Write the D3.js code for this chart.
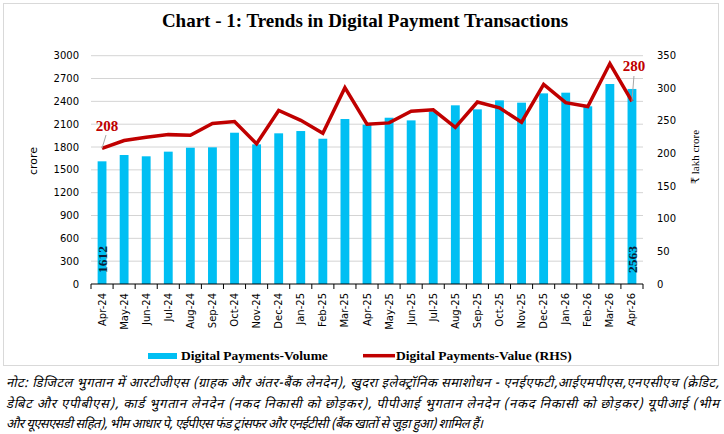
<!DOCTYPE html>
<html>
<head>
<meta charset="utf-8">
<script src="https://d3js.org/d3.v7.min.js"></script>
<style>
  body { margin: 0; background: #fff; }
  svg { display: block; }
</style>
</head>
<body>
<div id="chart"></div>
<script>
/* ============================================================
   DATA
   ============================================================ */

const months = [
  'Apr-24', 'May-24', 'Jun-24', 'Jul-24', 'Aug-24', 'Sep-24', 'Oct-24',
  'Nov-24', 'Dec-24', 'Jan-25', 'Feb-25', 'Mar-25', 'Apr-25', 'May-25',
  'Jun-25', 'Jul-25', 'Aug-25', 'Sep-25', 'Oct-25', 'Nov-25', 'Dec-25',
  'Jan-26', 'Feb-26', 'Mar-26', 'Apr-26'
];

// crore transactions (left axis)
const volume = [
  1612, 1695, 1678, 1739, 1791, 1796, 1988, 1835, 1980, 2010, 1909, 2168,
  2094, 2185, 2150, 2265, 2348, 2295, 2413, 2383, 2505, 2514, 2335, 2628, 2563
];

// ₹ lakh crore (right axis)
const value = [
  208, 220, 225, 229, 228, 246, 249, 215, 266, 251, 231, 301,
  245, 247, 265, 267, 240, 279, 270, 248, 306, 278, 272, 338, 280
];

const leftTicks  = d3.range(0, 3001, 300);
const rightTicks = d3.range(0, 351, 50);

const noteLines = [
  'नोट: डिजिटल भुगतान में आरटीजीएस (ग्राहक और अंतर-बैंक लेनदेन), खुदरा इलेक्ट्रॉनिक समाशोधन - एनईएफटी,आईएमपीएस,एनएसीएच (क्रेडिट,',
  'डेबिट और एपीबीएस), कार्ड भुगतान लेनदेन (नकद निकासी को छोड़कर), पीपीआई भुगतान लेनदेन (नकद निकासी को छोड़कर) यूपीआई (भीम',
  'और यूएसएसडी सहित), भीम आधार पे, एईपीएस फंड ट्रांसफर और एनईटीसी (बैंक खातों से जुड़ा हुआ) शामिल हैं।'
];

/* ============================================================
   LAYOUT / STYLE
   ============================================================ */

const W = 724, H = 434;
const PLOT = { left: 91, right: 643, top: 55.7, bottom: 284 };

const BAR_COLOR  = '#00bff3';
const LINE_COLOR = '#c00000';
const SERIF = '"Liberation Serif", "DejaVu Serif", serif';
const SANS  = '"DejaVu Sans", Verdana, sans-serif';
const DEVA  = '"Noto Sans Devanagari", "Noto Serif Devanagari", "Lohit Devanagari", "Mangal", "Noto Sans", sans-serif';

const svg = d3.select('#chart')
  .append('svg')
  .attr('width', W)
  .attr('height', H);

/* Frame */
svg.append('rect')
  .attr('x', 3.5).attr('y', 3.5)
  .attr('width', 715).attr('height', 362)
  .attr('fill', '#fff')
  .attr('stroke', '#d9d9d9');

/* Title */
svg.append('text')
  .attr('x', 365).attr('y', 27)
  .attr('text-anchor', 'middle')
  .attr('font-family', SERIF)
  .attr('font-weight', 'bold')
  .attr('font-size', 19)
  .attr('fill', '#000')
  .text('Chart - 1: Trends in Digital Payment Transactions');

/* Scales */
const x = d3.scaleBand()
  .domain(months)
  .range([PLOT.left, PLOT.right])
  .paddingInner(0.6)
  .paddingOuter(0.3);

const yL = d3.scaleLinear().domain([0, 3000]).range([PLOT.bottom, PLOT.top]);
const yR = d3.scaleLinear().domain([0, 350]).range([PLOT.bottom, PLOT.top]);

/* Gridlines */
svg.append('g')
  .selectAll('line')
  .data(leftTicks.filter(d => d > 0))
  .join('line')
  .attr('x1', PLOT.left).attr('x2', PLOT.right)
  .attr('y1', d => yL(d)).attr('y2', d => yL(d))
  .attr('stroke', '#d4d4d4')
  .attr('stroke-width', 1);

/* Left axis labels */
svg.append('g')
  .selectAll('text')
  .data(leftTicks)
  .join('text')
  .attr('x', 79)
  .attr('y', d => yL(d) + 3.5)
  .attr('text-anchor', 'end')
  .attr('font-family', SANS)
  .attr('font-size', 10)
  .attr('fill', '#000')
  .text(d => d);

/* Right axis labels */
svg.append('g')
  .selectAll('text')
  .data(rightTicks)
  .join('text')
  .attr('x', 657)
  .attr('y', d => yR(d) + 3.5)
  .attr('font-family', SANS)
  .attr('font-size', 10)
  .attr('fill', '#000')
  .text(d => d);

/* Axis titles */
svg.append('text')
  .attr('transform', 'translate(37,161) rotate(-90)')
  .attr('text-anchor', 'middle')
  .attr('font-family', SANS)
  .attr('font-size', 11)
  .attr('fill', '#000')
  .text('crore');

svg.append('text')
  .attr('transform', 'translate(699,157) rotate(-90)')
  .attr('text-anchor', 'middle')
  .attr('font-family', SERIF)
  .attr('font-size', 11)
  .attr('fill', '#000')
  .text('₹ lakh crore');

/* Bars */
svg.append('g')
  .selectAll('rect')
  .data(months)
  .join('rect')
  .attr('x', (d) => x(d))
  .attr('y', (d, i) => yL(volume[i]))
  .attr('width', x.bandwidth())
  .attr('height', (d, i) => yL(0) - yL(volume[i]))
  .attr('fill', BAR_COLOR);

/* X axis: baseline + ticks at category boundaries */
const step = x.step();
const xAxis = svg.append('g');
xAxis.append('line')
  .attr('x1', PLOT.left).attr('x2', PLOT.right)
  .attr('y1', PLOT.bottom).attr('y2', PLOT.bottom)
  .attr('stroke', '#000');
xAxis.selectAll('.tick')
  .data(d3.range(months.length + 1))
  .join('line')
  .attr('class', 'tick')
  .attr('x1', i => PLOT.left + i * step)
  .attr('x2', i => PLOT.left + i * step)
  .attr('y1', PLOT.bottom).attr('y2', PLOT.bottom + 5)
  .attr('stroke', '#000');

xAxis.selectAll('.lab')
  .data(months)
  .join('text')
  .attr('class', 'lab')
  .attr('transform', d => `translate(${x(d) + x.bandwidth() / 2 + 3.5},293) rotate(-90)`)
  .attr('text-anchor', 'end')
  .attr('font-family', SANS)
  .attr('font-size', 10)
  .attr('fill', '#000')
  .text(d => d);

/* Line */
const line = d3.line()
  .x((d, i) => x(months[i]) + x.bandwidth() / 2)
  .y(d => yR(d));

svg.append('path')
  .datum(value)
  .attr('d', line)
  .attr('fill', 'none')
  .attr('stroke', LINE_COLOR)
  .attr('stroke-width', 3.5)
  .attr('stroke-linejoin', 'miter');

/* Bar data labels (first and last) */
[0, months.length - 1].forEach(i => {
  const cx = x(months[i]) + x.bandwidth() / 2;
  svg.append('text')
    .attr('transform', `translate(${cx + 5},${PLOT.bottom - 11}) rotate(-90)`)
    .attr('font-family', SERIF)
    .attr('font-weight', 'bold')
    .attr('font-size', 13.5)
    .attr('fill', '#0b1f3a')
    .text(volume[i]);
});

/* Line data labels with leader lines */
const firstX = x(months[0]) + x.bandwidth() / 2;
const lastX  = x(months[months.length - 1]) + x.bandwidth() / 2;

svg.append('line')
  .attr('x1', firstX + 4).attr('y1', 135)
  .attr('x2', firstX).attr('y2', yR(value[0]))
  .attr('stroke', '#a6a6a6');
svg.append('text')
  .attr('x', firstX + 5).attr('y', 131)
  .attr('text-anchor', 'middle')
  .attr('font-family', SERIF)
  .attr('font-weight', 'bold')
  .attr('font-size', 15)
  .attr('fill', LINE_COLOR)
  .text(value[0]);

svg.append('line')
  .attr('x1', lastX + 2).attr('y1', 76)
  .attr('x2', lastX).attr('y2', yR(value[value.length - 1]))
  .attr('stroke', '#a6a6a6');
svg.append('text')
  .attr('x', lastX + 2).attr('y', 71)
  .attr('text-anchor', 'middle')
  .attr('font-family', SERIF)
  .attr('font-weight', 'bold')
  .attr('font-size', 15)
  .attr('fill', LINE_COLOR)
  .text(value[value.length - 1]);

/* Legend */
const legend = svg.append('g')
  .attr('font-family', SERIF)
  .attr('font-weight', 'bold')
  .attr('font-size', 13.5)
  .attr('fill', '#000');
legend.append('rect')
  .attr('x', 148).attr('y', 353)
  .attr('width', 29).attr('height', 6)
  .attr('fill', BAR_COLOR);
legend.append('text')
  .attr('x', 181).attr('y', 360)
  .text('Digital Payments-Volume');
legend.append('line')
  .attr('x1', 363).attr('x2', 395)
  .attr('y1', 355.7).attr('y2', 355.7)
  .attr('stroke', LINE_COLOR)
  .attr('stroke-width', 3.5);
legend.append('text')
  .attr('x', 396).attr('y', 360)
  .text('Digital Payments-Value (RHS)');

/* Note (Hindi) */
svg.append('g')
  .selectAll('text')
  .data(noteLines)
  .join('text')
  .attr('x', 6)
  .attr('y', (d, i) => 387 + i * 20.5)
  .attr('font-family', DEVA)
  .attr('font-style', 'oblique')
  .attr('font-size', 13)
  .attr('fill', '#000')
  .attr('textLength', (d, i) => [713, 713, 477][i])
  .attr('lengthAdjust', 'spacing')
  .text(d => d);
</script>
</body>
</html>
